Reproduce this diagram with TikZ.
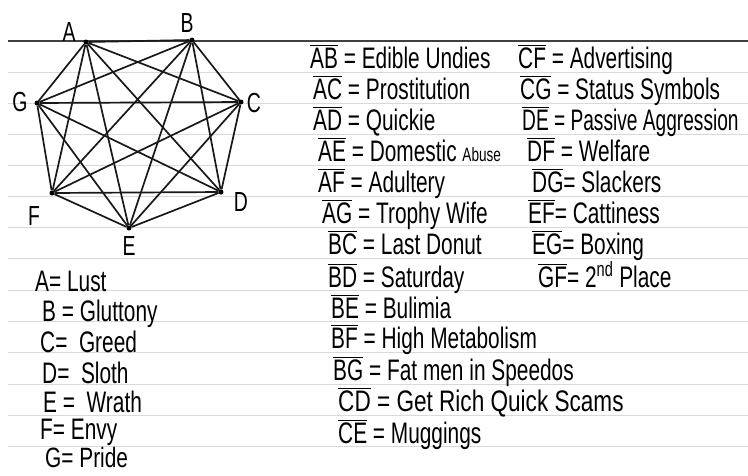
\documentclass[tikz,border=0pt]{standalone}
\usepackage{graphicx}
\usepackage{fontspec}
\setmainfont{Liberation Sans}
\newcommand\seg[1]{\ensuremath{\overline{\hbox{#1}}}}
\newcommand\hw[1]{\scalebox{0.97}[1.38]{#1}}
\begin{document}
\begin{tikzpicture}[x=1pt,y=-1pt,
  vtx/.style={circle,fill=black,inner sep=0pt,minimum size=5pt},
  edge/.style={line width=1.7pt,black!90},
  vlab/.style={inner sep=0pt,font=\fontsize{20}{20}\selectfont},
  txt/.style={anchor=base west,inner sep=0pt,font=\fontsize{21.5}{21.5}\selectfont},
  paperrule/.style={black!15,line width=0.6pt},
  toprule/.style={black!75,line width=1.4pt}]
\useasboundingbox[fill=white] (0,0) rectangle (748,475);
% paper
\foreach \y in {72,103,134,165,196,227,258,290,321,352,384,415,446}
  \draw[paperrule] (8,\y) -- (748,\y);
\draw[toprule] (8,41) -- (748,41);
% graph
\node[vtx] (A) at (86,42) {};
\node[vtx] (B) at (192,40) {};
\node[vtx] (C) at (241,102) {};
\node[vtx] (D) at (221,192) {};
\node[vtx] (E) at (129,228) {};
\node[vtx] (F) at (52,193) {};
\node[vtx] (G) at (37,103) {};
\foreach \u/\v in {A/B,A/C,A/D,A/E,A/F,A/G,B/C,B/D,B/E,B/F,B/G,C/D,C/E,C/F,C/G,D/E,D/F,D/G,E/F,E/G,F/G}
  \draw[edge] (\u) -- (\v);
\node[vlab] (lbA) at (69,32) {\hw{A}};
\node[vlab] (lbB) at (187,23) {\hw{B}};
\node[vlab] (lbC) at (254,103) {\hw{C}};
\node[vlab] (lbD) at (241,202) {\hw{D}};
\node[vlab] (lbE) at (129,246) {\hw{E}};
\node[vlab] (lbF) at (34,216) {\hw{F}};
\node[vlab] (lbG) at (20,102) {\hw{G}};
% left column of edges
\node[txt] (tAB) at (310,68) {\hw{\seg{AB} = Edible Undies}};
\node[txt] (tAC) at (313,99) {\hw{\seg{AC} = Prostitution}};
\node[txt] (tAD) at (313,130) {\hw{\seg{AD} = Quickie}};
\node[txt] (tAE) at (318,161) {\hw{\seg{AE} = Domestic {\fontsize{14}{14}\selectfont Abuse}}};
\node[txt] (tAF) at (318,192) {\hw{\seg{AF} = Adultery}};
\node[txt] (tAG) at (322,223) {\hw{\seg{AG} = Trophy Wife}};
\node[txt] (tBC) at (328,254) {\hw{\seg{BC} = Last Donut}};
\node[txt] (tBD) at (328,287) {\hw{\seg{BD} = Saturday}};
\node[txt] (tBE) at (331,318) {\hw{\seg{BE} = Bulimia}};
\node[txt] (tBF) at (331,348) {\hw{\seg{BF} = High Metabolism}};
\node[txt] (tBG) at (333,380) {\hw{\seg{BG} = Fat men in Speedos}};
\node[txt] (tCD) at (338,411) {\scalebox{1.05}[1.38]{\seg{CD} = Get Rich Quick Scams}};
\node[txt] (tCE) at (338,443) {\hw{\seg{CE} = Muggings}};
% right column of edges
\node[txt] (tCF) at (518,68) {\hw{\seg{CF} = Advertising}};
\node[txt] (tCG) at (520,99) {\hw{\seg{CG} = Status Symbols}};
\node[txt] (tDE) at (522,130) {\scalebox{0.89}[1.38]{\seg{DE} = Passive Aggression}};
\node[txt] (tDF) at (527,161) {\hw{\seg{DF} = Welfare}};
\node[txt] (tDG) at (532,192) {\hw{\seg{DG}= Slackers}};
\node[txt] (tEF) at (528,223) {\hw{\seg{EF}= Cattiness}};
\node[txt] (tEG) at (532,254) {\hw{\seg{EG}= Boxing}};
\node[txt] (tGF) at (538,287) {\hw{\seg{GF}= 2\textsuperscript{nd} Place}};
% legend of vertices
\node[txt] (kA) at (35,291) {\hw{A= Lust}};
\node[txt] (kB) at (42,321) {\hw{B = Gluttony}};
\node[txt] (kC) at (40,352) {\hw{C= \ Greed}};
\node[txt] (kD) at (42,383) {\hw{D= \ Sloth}};
\node[txt] (kE) at (43,412) {\hw{E = \ Wrath}};
\node[txt] (kF) at (40,439) {\hw{F= Envy}};
\node[txt] (kG) at (45,467) {\scalebox{0.97}[1.3]{G= Pride}};
\end{tikzpicture}
\end{document}
